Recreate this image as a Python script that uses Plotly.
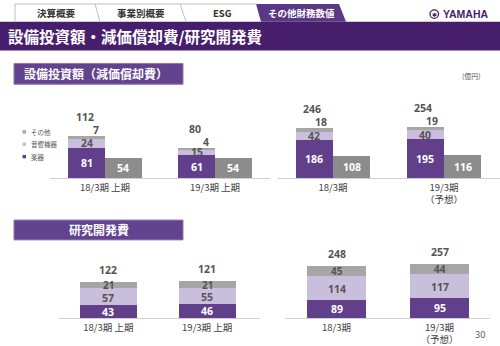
import plotly.graph_objects as go

W, H = 500, 346

# ---------------- data ----------------
half_cats = ["18/3期 上期", "19/3期 上期"]
year_cats = ["18/3期", "19/3期<br>（予想）"]
legend_labels = ["その他", "音響機器", "楽器"]

capex_half_gakki = [81, 61]
capex_half_onkyo = [24, 15]
capex_half_other = [7, 4]
capex_half_total = [112, 80]
depr_half = [54, 54]

capex_year_gakki = [186, 195]
capex_year_onkyo = [42, 40]
capex_year_other = [18, 19]
capex_year_total = [246, 254]
depr_year = [108, 116]

rd_half_gakki = [43, 46]
rd_half_onkyo = [57, 55]
rd_half_other = [21, 21]
rd_half_total = [122, 121]

rd_year_gakki = [89, 95]
rd_year_onkyo = [114, 117]
rd_year_other = [45, 44]
rd_year_total = [248, 257]

tabs = ["決算概要", "事業別概要", "ESG", "その他財務数値"]
title = "設備投資額・減価償却費/研究開発費"
sec1 = "設備投資額（減価償却費）"
sec2 = "研究開発費"

# ---------------- styles ----------------
PURPLE = "#623f8b"
LIGHT = "#c9bedb"
OTHER = "#a6a6a6"
DEPR = "#8c8c8c"
BANNER = "#471e6b"
TAB_ACTIVE = "#5b3886"
BOX = "#634390"
TXT = "#404040"
NUMF = "Noto Sans"
JPF = "Noto Sans CJK JP"


def PX(p):
    return p / W


def PY(p):
    return 1 - p / H


fig = go.Figure()

annotations = []
shapes = []


def ann(text, x, y, xref="paper", yref="paper", color=TXT, size=10.5, bold=True,
        family=NUMF, xanchor="center", yanchor="middle", xshift=0, yshift=0):
    t = f"<b>{text}</b>" if bold else text
    annotations.append(dict(text=t, x=x, y=y, xref=xref, yref=yref, showarrow=False,
                            font=dict(color=color, size=size, family=family),
                            xanchor=xanchor, yanchor=yanchor, xshift=xshift, yshift=yshift))


# ---------------- capex charts (top) ----------------
off = 0.168
bw = 0.335
top_sets = [
    ("x", "y", capex_half_gakki, capex_half_onkyo, capex_half_other, capex_half_total, depr_half),
    ("x2", "y2", capex_year_gakki, capex_year_onkyo, capex_year_other, capex_year_total, depr_year),
]
for xa, ya, g, o, ot, tot, dp in top_sets:
    n = len(g)
    xp = [i - off for i in range(n)]
    xg = [i + off for i in range(n)]
    for vals, col in ((g, PURPLE), (o, LIGHT), (ot, OTHER)):
        fig.add_trace(go.Bar(x=xp, y=vals, width=bw, marker=dict(color=col, line=dict(width=0)),
                             xaxis=xa, yaxis=ya, showlegend=False, hoverinfo="skip"))
    fig.add_trace(go.Bar(x=xg, y=dp, width=bw, marker=dict(color=DEPR, line=dict(width=0)),
                         xaxis=xa, yaxis=ya, showlegend=False, hoverinfo="skip"))
    for i in range(n):
        s1 = g[i]
        s2 = g[i] + o[i]
        s3 = s2 + ot[i]
        ann(g[i], xp[i], s1 / 2, xa, ya, color="white")
        ann(o[i], xp[i], (s1 + s2) / 2, xa, ya, color="#555555")
        ann(ot[i], xp[i] + bw / 2, s3, xa, ya, color="#555555", xanchor="right",
            yanchor="bottom", xshift=-4, yshift=-3)
        ann(tot[i], xp[i], s3, xa, ya, color="#555555", yanchor="bottom", xshift=-2, yshift=10)
        ann(dp[i], xg[i], dp[i] / 2, xa, ya, color="white")

# ---------------- R&D charts (bottom) ----------------
bot_sets = [
    ("x3", "y3", rd_half_gakki, rd_half_onkyo, rd_half_other, rd_half_total, 0.574),
    ("x4", "y4", rd_year_gakki, rd_year_onkyo, rd_year_other, rd_year_total, 0.57),
]
for xa, ya, g, o, ot, tot, w in bot_sets:
    n = len(g)
    xs = list(range(n))
    for vals, col in ((g, PURPLE), (o, LIGHT), (ot, OTHER)):
        fig.add_trace(go.Bar(x=xs, y=vals, width=w, marker=dict(color=col, line=dict(width=0)),
                             xaxis=xa, yaxis=ya, showlegend=False, hoverinfo="skip"))
    for i in range(n):
        s1 = g[i]
        s2 = s1 + o[i]
        s3 = s2 + ot[i]
        ann(g[i], xs[i], s1 / 2, xa, ya, color="white")
        ann(o[i], xs[i], (s1 + s2) / 2, xa, ya, color="#555555", yshift=-1)
        ann(ot[i], xs[i], (s2 + s3) / 2, xa, ya, color="#555555", size=10)
        ann(tot[i], xs[i], s3, xa, ya, color="#555555", yanchor="bottom", yshift=3)

# ---------------- axes ----------------
tickfont = dict(size=9.5, color=TXT, family=JPF)


def xaxis(domain, rng, anchor, cats):
    return dict(domain=domain, range=rng, anchor=anchor, showgrid=False, zeroline=False,
                showline=True, linecolor="#d0d0d0", linewidth=1, ticks="",
                tickvals=list(range(len(cats))), ticktext=cats, tickfont=tickfont,
                fixedrange=True)


def yaxis(domain, rng, anchor):
    return dict(domain=domain, range=rng, anchor=anchor, visible=False, fixedrange=True)


layout = dict(
    width=W, height=H, margin=dict(l=0, r=0, t=0, b=0),
    paper_bgcolor="white", plot_bgcolor="rgba(0,0,0,0)",
    barmode="stack", showlegend=False,
    xaxis=xaxis([PX(50), PX(270)], [-0.5, 1.5], "y", half_cats),
    yaxis=yaxis([PY(180), PY(95)], [0, 85 / 0.383], "x"),
    xaxis2=xaxis([PX(277.5), PX(499.5)], [-0.5, 1.5], "y2", year_cats),
    yaxis2=yaxis([PY(180), PY(95)], [0, 85 / 0.206], "x2"),
    xaxis3=xaxis([PX(59), PX(260)], [-0.5, 1.535], "y3", half_cats),
    yaxis3=yaxis([PY(321), PY(250)], [0, 71 / 0.305], "x3"),
    xaxis4=xaxis([PX(285), PX(490)], [-0.5, 1.49], "y4", year_cats),
    yaxis4=yaxis([PY(321), PY(250)], [0, 71 / 0.212], "x4"),
)


# ---------------- decorations ----------------
def poly(pts, fill, line=None, lw=0):
    path = "M " + " L ".join(f"{PX(a)},{PY(b)}" for a, b in pts) + " Z"
    shapes.append(dict(type="path", path=path, xref="paper", yref="paper",
                       fillcolor=fill, line=dict(color=line or fill, width=lw), layer="below"))


def line(x0, y0, x1, y1, col="#c0c0c0", w=1):
    shapes.append(dict(type="line", x0=PX(x0), y0=PY(y0), x1=PX(x1), y1=PY(y1),
                       xref="paper", yref="paper", line=dict(color=col, width=w)))


# tabs
line(15, 4, 257, 4)
line(15, 4, 15, 22)
line(95, 4, 100, 22)
line(180, 4, 186, 22)
poly([(256, 4), (339, 4), (346, 22), (261, 22)], TAB_ACTIVE)
tab_centers = [56, 141, 222, 301]
for t, cx in zip(tabs, tab_centers):
    ann(t, PX(cx), PY(13.5), color="white" if t == tabs[-1] else "#333333", size=9.5, family=JPF)

# banner
poly([(0, 22), (500, 22), (500, 51), (0, 51)], BANNER)
ann(title, PX(6), PY(36.5), color="white", size=15.5, family=JPF, xanchor="left")

# logo
shapes.append(dict(type="circle", xref="paper", yref="paper", x0=PX(430), x1=PX(438.5),
                   y0=PY(18.5), y1=PY(10), line=dict(color=BANNER, width=1.3)))
ann("✱", PX(434.3), PY(14.3), color=BANNER, size=6, family="DejaVu Sans")
ann("YAMAHA", PX(441), PY(14.5), color=BANNER, size=10.5, family="Liberation Sans",
    xanchor="left")

# section headers
poly([(14, 64), (183, 64), (183, 85), (14, 85)], BOX, "#8c78ad", 1)
ann(sec1, PX(96), PY(74.5), color="white", size=12, family=JPF)
poly([(14, 222), (183, 222), (183, 242), (14, 242)], BOX, "#8c78ad", 1)
ann(sec2, PX(98.5), PY(232), color="white", size=12, family=JPF)

# unit
ann("(億円)", PX(471), PY(76.5), color="#555555", size=7, bold=False, family=JPF)

# legend
leg_cols = [OTHER, LIGHT, PURPLE]
leg_y = [133, 145.5, 158]
for lab, col, ly in zip(legend_labels, leg_cols, leg_y):
    shapes.append(dict(type="rect", xref="paper", yref="paper", x0=PX(22.5), x1=PX(26),
                       y0=PY(ly + 1.75), y1=PY(ly - 1.75), fillcolor=col, line=dict(width=0)))
    ann(lab, PX(28.5), PY(ly), color="#595959", size=6.5, bold=False, family=JPF,
        xanchor="left")

# page number
ann("30", PX(480), PY(337), color="#595959", size=9, bold=False, family=NUMF)

layout["annotations"] = annotations
layout["shapes"] = shapes
fig.update_layout(**layout)
fig.write_html("out.html")
